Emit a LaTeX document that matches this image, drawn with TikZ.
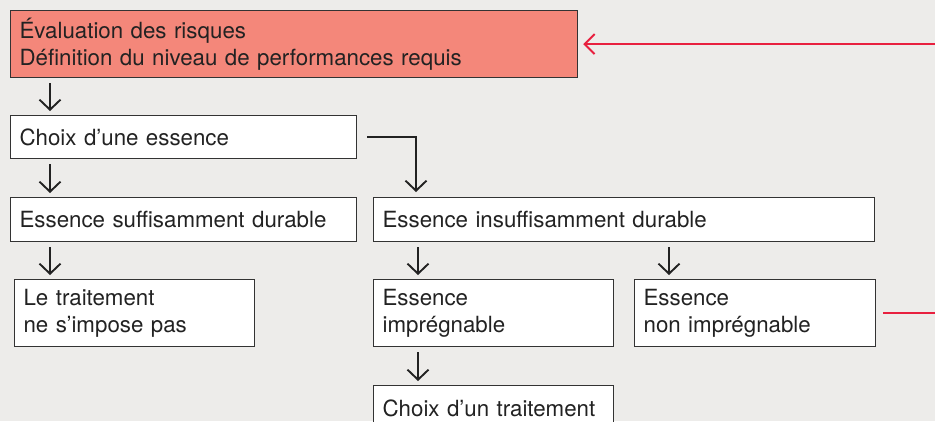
\documentclass[tikz,border=0pt]{standalone}
\usepackage{fontspec}
\setmainfont{TeX Gyre Heros}
\usetikzlibrary{arrows.meta}
\definecolor{fond}{HTML}{EDECEA}
\definecolor{saumon}{HTML}{F4877A}
\definecolor{rouge}{HTML}{E8203F}
\definecolor{trait}{HTML}{333333}
\definecolor{texte}{HTML}{222222}
\begin{document}
\begin{tikzpicture}[x=1pt, y=-1pt,
	boite/.style={draw=trait, line width=1.2pt, fill=white, anchor=north west, align=left,
		inner xsep=9pt, inner ysep=0pt, text=texte, font=\fontsize{22.3}{27}\selectfont},
	fleche/.style={-{Straight Barb[length=10pt,width=21pt]}, line width=1.9pt, texte,
		shorten <=5pt, shorten >=4pt},
	rougetrait/.style={rouge, line width=2pt}]
	% fond
	\clip (0,0) rectangle (935,421);
	\fill[fond] (0,0) rectangle (935,421);
	\coordinate (bord) at (945,0);
	
	% Cases
	\node[boite, fill=saumon, text width=549pt, minimum height=67pt] (evaluation) at (10,10)
		{Évaluation des risques\\Définition du niveau de performances requis};
	\node[boite, text width=328pt, minimum height=43pt] (choix) at (10,115) {Choix d’une essence};
	\node[boite, text width=328pt, minimum height=44pt] (durable) at (10,197) {Essence suffisamment durable};
	\node[boite, text width=483pt, minimum height=44pt] (insuffisant) at (373,197) {Essence insuffisamment durable};
	\node[boite, text width=222pt, minimum height=67pt] (pasbesoin) at (14,279) {Le traitement\\ne s’impose pas};
	\node[boite, text width=222pt, minimum height=67pt] (impregnable) at (373,279) {Essence\\imprégnable};
	\node[boite, text width=223pt, minimum height=67pt] (nonimpregnable) at (634,279) {Essence\\non imprégnable};
	\node[boite, text width=222pt, minimum height=45pt] (traitement) at (373,385) {Choix d’un traitement};
	
	% Flèches
	\draw[fleche] ([xshift=40pt]evaluation.south west) -- ([xshift=40pt]choix.north west);
	\draw[fleche] ([xshift=40pt]choix.south west) -- ([xshift=40pt]durable.north west);
	\draw[fleche, shorten <=10pt, shorten >=5pt] (choix.east) -| ([xshift=43pt]insuffisant.north west);
	\draw[fleche] ([xshift=40pt]durable.south west) -- ([xshift=40pt]durable.south west |- pasbesoin.north);
	\draw[fleche] ([xshift=45pt]insuffisant.south west) -- ([xshift=45pt]insuffisant.south west |- impregnable.north);
	\draw[fleche] ([xshift=296pt]insuffisant.south west) -- ([xshift=296pt]insuffisant.south west |- nonimpregnable.north);
	\draw[fleche] ([xshift=45pt]impregnable.south west) -- ([xshift=45pt]impregnable.south west |- traitement.north);
	
	% Retour en rouge
	\draw[rougetrait, -{Straight Barb[length=10pt,width=20pt]}, shorten >=5pt] (evaluation.east -| bord) -- (evaluation.east);
	\draw[rougetrait, shorten <=7pt] (nonimpregnable.east) -- (nonimpregnable.east -| bord);
\end{tikzpicture}
\end{document}
